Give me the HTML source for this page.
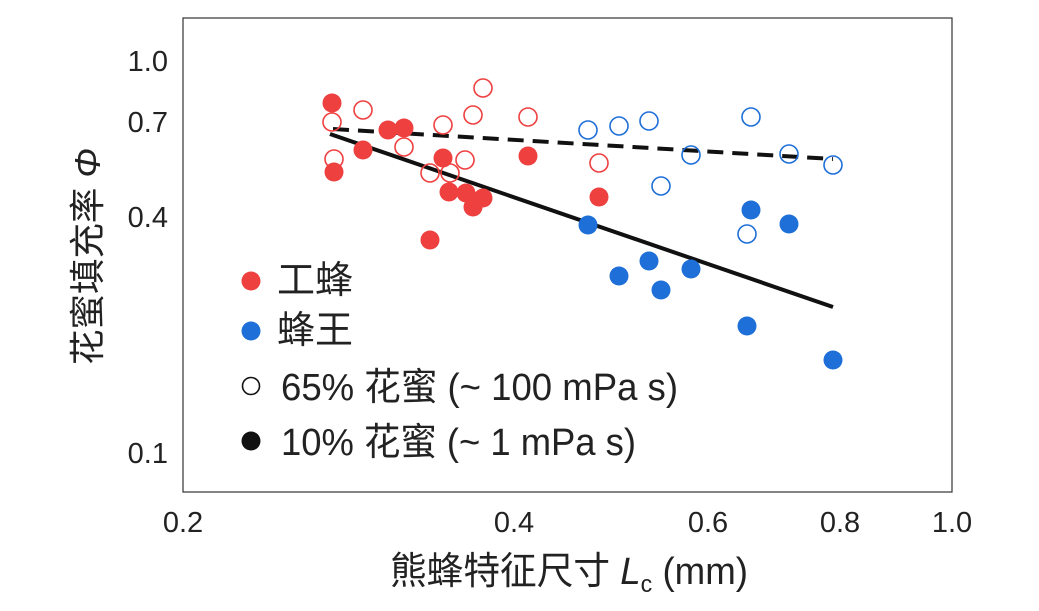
<!DOCTYPE html>
<html><head><meta charset="utf-8"><style>
body{margin:0;background:#fff}
svg text{font-family:"Liberation Sans","Noto Sans CJK SC",sans-serif;fill:#222}
</style></head><body>
<svg width="1039" height="606" xmlns="http://www.w3.org/2000/svg">
<rect x="183" y="18" width="769" height="474" fill="none" stroke="#333" stroke-width="1.2"/>
<g font-size="29" text-anchor="end">
<text x="168" y="71">1.0</text><text x="168" y="132">0.7</text><text x="168" y="227">0.4</text><text x="168" y="463">0.1</text>
</g>
<g font-size="29" text-anchor="middle">
<text x="183" y="532">0.2</text><text x="514" y="532">0.4</text><text x="708" y="532">0.6</text><text x="840" y="532">0.8</text><text x="952" y="532">1.0</text>
</g>
<text x="390" y="584" font-size="38" textLength="358" lengthAdjust="spacingAndGlyphs">熊蜂特征尺寸 <tspan font-style="italic">L</tspan><tspan font-size="24" dy="8">c</tspan><tspan dy="-8"> (mm)</tspan></text>
<text transform="translate(100,365) rotate(-90)" font-size="36" textLength="217" lengthAdjust="spacingAndGlyphs">花蜜填充率 <tspan font-style="italic">Φ</tspan></text>
<line x1="333" y1="129" x2="833" y2="159" stroke="#111" stroke-width="4" stroke-dasharray="16,9"/>
<line x1="330" y1="134" x2="833" y2="307" stroke="#111" stroke-width="4"/>
<g fill="#ef4040">
<circle cx="332" cy="103" r="9.5"/><circle cx="334" cy="172" r="9.5"/><circle cx="363" cy="150" r="9.5"/><circle cx="388" cy="130" r="9.5"/><circle cx="404" cy="128" r="9.5"/><circle cx="443" cy="158" r="9.5"/><circle cx="449" cy="192" r="9.5"/><circle cx="466" cy="193" r="9.5"/><circle cx="473" cy="207" r="9.5"/><circle cx="483" cy="198" r="9.5"/><circle cx="430" cy="240" r="9.5"/><circle cx="528" cy="156" r="9.5"/><circle cx="599" cy="197" r="9.5"/>
<circle cx="251" cy="281" r="9.5"/>
</g>
<g fill="none" stroke="#ef4040" stroke-width="1.6">
<circle cx="332" cy="122" r="9"/><circle cx="363" cy="110" r="9"/><circle cx="404" cy="147" r="9"/><circle cx="430" cy="173" r="9"/><circle cx="443" cy="125" r="9"/><circle cx="450" cy="173" r="9"/><circle cx="465" cy="160" r="9"/><circle cx="473" cy="115" r="9"/><circle cx="483" cy="88" r="9"/><circle cx="528" cy="117" r="9"/><circle cx="599" cy="163" r="9"/><circle cx="334" cy="159" r="9"/>
</g>
<g fill="none" stroke="#1f6fd8" stroke-width="1.6">
<circle cx="588" cy="130" r="9"/><circle cx="619" cy="126" r="9"/><circle cx="649" cy="121" r="9"/><circle cx="661" cy="186" r="9"/><circle cx="691" cy="155" r="9"/><circle cx="747" cy="234" r="9"/><circle cx="751" cy="117" r="9"/><circle cx="789" cy="154" r="9"/><circle cx="833" cy="165" r="9"/>
</g>
<g fill="#1f6fd8">
<circle cx="588" cy="225" r="9.5"/><circle cx="619" cy="276" r="9.5"/><circle cx="649" cy="261" r="9.5"/><circle cx="661" cy="290" r="9.5"/><circle cx="691" cy="269" r="9.5"/><circle cx="747" cy="326" r="9.5"/><circle cx="751" cy="210" r="9.5"/><circle cx="789" cy="224" r="9.5"/><circle cx="833" cy="360" r="9.5"/>
<circle cx="251" cy="331" r="9.5"/>
</g>
<circle cx="251" cy="386" r="8.5" fill="none" stroke="#111" stroke-width="1.6"/>
<circle cx="251" cy="441" r="9.5" fill="#111"/>
<g font-size="38">
<text x="277" y="293" textLength="76" lengthAdjust="spacingAndGlyphs">工蜂</text>
<text x="277" y="343" textLength="76" lengthAdjust="spacingAndGlyphs">蜂王</text>
<text x="281" y="400" textLength="397" lengthAdjust="spacingAndGlyphs">65% 花蜜 (~ 100 mPa s)</text>
<text x="281" y="455" textLength="355" lengthAdjust="spacingAndGlyphs">10% 花蜜 (~ 1 mPa s)</text>
</g>
</svg>
</body></html>
